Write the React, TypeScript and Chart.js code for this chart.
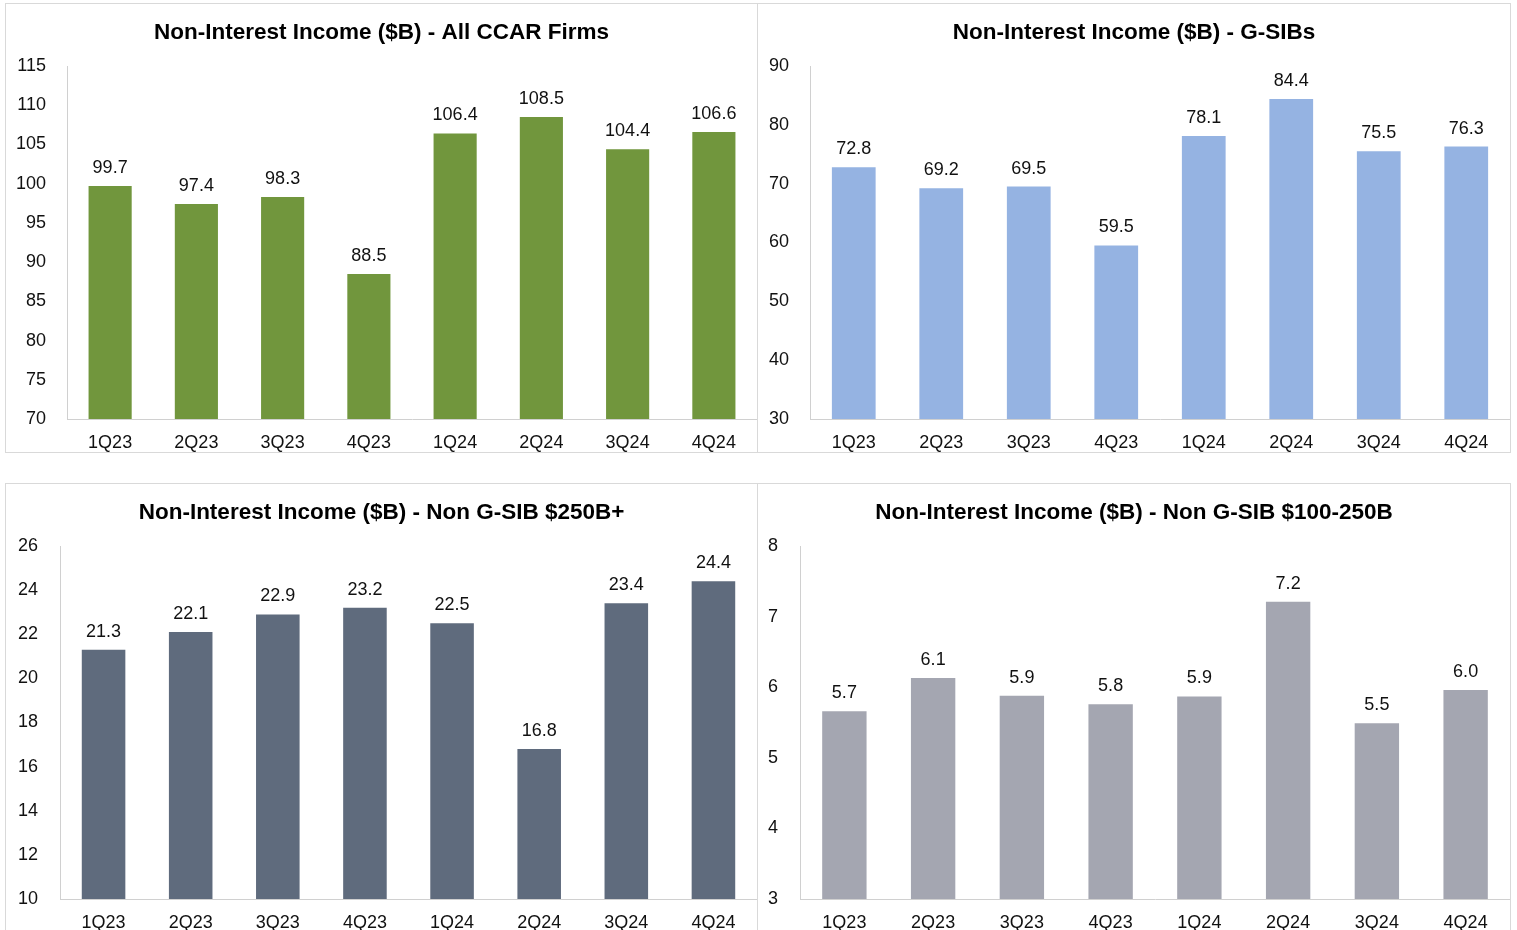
import React, { useEffect, useRef } from "react";
import { Chart, registerables } from "chart.js";

Chart.register(...registerables);

const quarters = ["1Q23", "2Q23", "3Q23", "4Q23", "1Q24", "2Q24", "3Q24", "4Q24"];
const allCcarValues = [99.7, 97.4, 98.3, 88.5, 106.4, 108.5, 104.4, 106.6];
const gsibValues = [72.8, 69.2, 69.5, 59.5, 78.1, 84.4, 75.5, 76.3];
const nonGsib250Values = [21.3, 22.1, 22.9, 23.2, 22.5, 16.8, 23.4, 24.4];
const nonGsib100Values = [5.66, 6.13, 5.88, 5.76, 5.87, 7.21, 5.49, 5.96];

const titles = [
  "Non-Interest Income ($B) - All CCAR Firms",
  "Non-Interest Income ($B) - G-SIBs",
  "Non-Interest Income ($B) - Non G-SIB $250B+",
  "Non-Interest Income ($B) - Non G-SIB $100-250B",
];
const yMins = [70, 30, 10, 3];
const yMaxs = [115, 90, 26, 8];
const ySteps = [5, 10, 2, 1];

const FONT = "'Liberation Sans', Arial, Helvetica, sans-serif";

type PanelProps = {
  title: string;
  values: number[];
  color: string;
  min: number;
  max: number;
  step: number;
  left: number;
  top: number;
  width: number;
  height: number;
  axisWidth: number;
  tickPad: number;
};

const labelPlugin = {
  id: "barValueLabels",
  afterDatasetsDraw(chart: any) {
    const ctx = chart.ctx;
    ctx.save();
    ctx.font = `18px ${FONT}`;
    ctx.fillStyle = "#111111";
    ctx.textAlign = "center";
    ctx.textBaseline = "middle";
    chart.data.datasets.forEach((ds: any, di: number) => {
      const meta = chart.getDatasetMeta(di);
      meta.data.forEach((bar: any, i: number) => {
        const v = ds.data[i] as number;
        ctx.fillText(v.toFixed(1), bar.x, bar.y - 18);
      });
    });
    ctx.restore();
  },
};

function Panel(p: PanelProps) {
  const ref = useRef<HTMLCanvasElement | null>(null);
  useEffect(() => {
    if (!ref.current) return;
    const chart = new Chart(ref.current, {
      type: "bar",
      data: {
        labels: quarters,
        datasets: [
          {
            data: p.values,
            backgroundColor: p.color,
            barPercentage: 0.5,
            categoryPercentage: 1,
          },
        ],
      },
      options: {
        animation: false,
        responsive: true,
        maintainAspectRatio: false,
        layout: { padding: { left: 0, right: 0, top: 0, bottom: 0 } },
        plugins: {
          legend: { display: false },
          tooltip: { enabled: false },
          title: {
            display: true,
            text: p.title,
            color: "#000000",
            font: { family: FONT, size: 22.5, weight: "bold" },
            padding: { top: 15, bottom: 20 },
          },
        },
        scales: {
          x: {
            grid: { display: false, drawTicks: false },
            border: { display: true, color: "#d0d0d0", width: 1 },
            ticks: {
              color: "#111111",
              font: { family: FONT, size: 18 },
              padding: 13,
              maxRotation: 0,
              autoSkip: false,
            },
            afterFit: (s: any) => {
              s.height = 33;
            },
          },
          y: {
            min: p.min,
            max: p.max,
            grid: { display: false, drawTicks: false },
            border: { display: true, color: "#d0d0d0", width: 1 },
            ticks: {
              stepSize: p.step,
              color: "#111111",
              font: { family: FONT, size: 18 },
              padding: p.tickPad,
            },
            afterFit: (s: any) => {
              s.width = p.axisWidth;
            },
          },
        },
      },
      plugins: [labelPlugin],
    });
    return () => chart.destroy();
  }, []);
  return (
    <div
      style={{
        position: "absolute",
        left: p.left,
        top: p.top,
        width: p.width,
        height: p.height,
        border: "1px solid #d9d9d9",
        boxSizing: "border-box",
        background: "#ffffff",
      }}
    >
      <div style={{ position: "relative", width: "100%", height: "100%" }}>
        <canvas ref={ref} />
      </div>
    </div>
  );
}

export default function App() {
  return (
    <div
      style={{
        position: "fixed",
        left: 0,
        top: 0,
        width: 1517,
        height: 930,
        overflow: "hidden",
        background: "#ffffff",
      }}
    >
      <Panel title={titles[0]} values={allCcarValues} color="#71963d" min={yMins[0]} max={yMaxs[0]} step={ySteps[0]}
        left={5} top={3} width={753} height={450} axisWidth={61} tickPad={21} />
      <Panel title={titles[1]} values={gsibValues} color="#95b3e2" min={yMins[1]} max={yMaxs[1]} step={ySteps[1]}
        left={757} top={3} width={754} height={450} axisWidth={52} tickPad={21} />
      <Panel title={titles[2]} values={nonGsib250Values} color="#5f6b7d" min={yMins[2]} max={yMaxs[2]} step={ySteps[2]}
        left={5} top={483} width={753} height={450} axisWidth={54} tickPad={22} />
      <Panel title={titles[3]} values={nonGsib100Values} color="#a4a6b1" min={yMins[3]} max={yMaxs[3]} step={ySteps[3]}
        left={757} top={483} width={754} height={450} axisWidth={42} tickPad={22} />
    </div>
  );
}
